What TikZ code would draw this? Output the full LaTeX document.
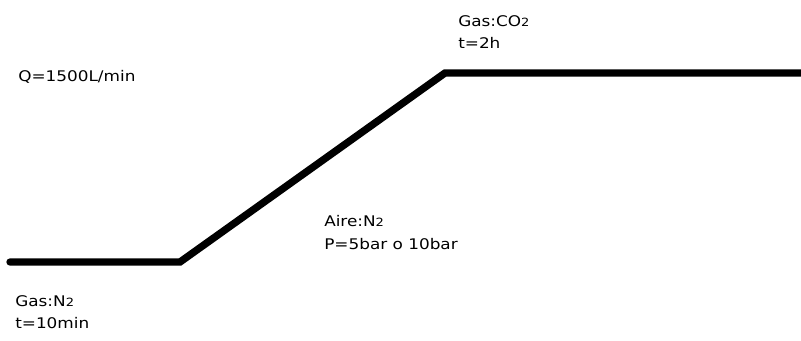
\documentclass[tikz,border=0pt]{standalone}
\usepackage{fontspec}
\newfontfamily\labelfont[FakeStretch=1.15]{DejaVu Sans}
\newcommand{\chemidx}[1]{{\fontsize{8.5}{8.5}\selectfont #1}}

\begin{document}
\begin{tikzpicture}[x=0.75pt,y=-0.75pt,
		profile/.style={line width=5.5pt,line cap=round,line join=miter},
		lbl/.style={anchor=north west,inner sep=0pt,align=left,
			font=\labelfont\fontsize{11}{17}\selectfont}]
		\useasboundingbox (0,0) rectangle (801,340);
		% Profilverlauf
		\coordinate (start) at (10,262);
		\coordinate (rampa) at (180,262);
		\coordinate (cima) at (445,73);
		\coordinate (fin) at (801,73);
		\draw[profile] (start) -- (rampa) -- (cima) -- (fin);
		% Texte
		\node[lbl] (caudal) at (18,70) {Q=1500L/min};
		\node[lbl] (gasn) at (15,295) {Gas:N\chemidx{2}\\t=10min};
		\node[lbl] (aire) at (324,215) {Aire:N\chemidx{2}\\P=5bar o 10bar};
		\node[lbl] (gasco) at (458,15) {Gas:CO\chemidx{2}\\t=2h};
\end{tikzpicture}
\end{document}
